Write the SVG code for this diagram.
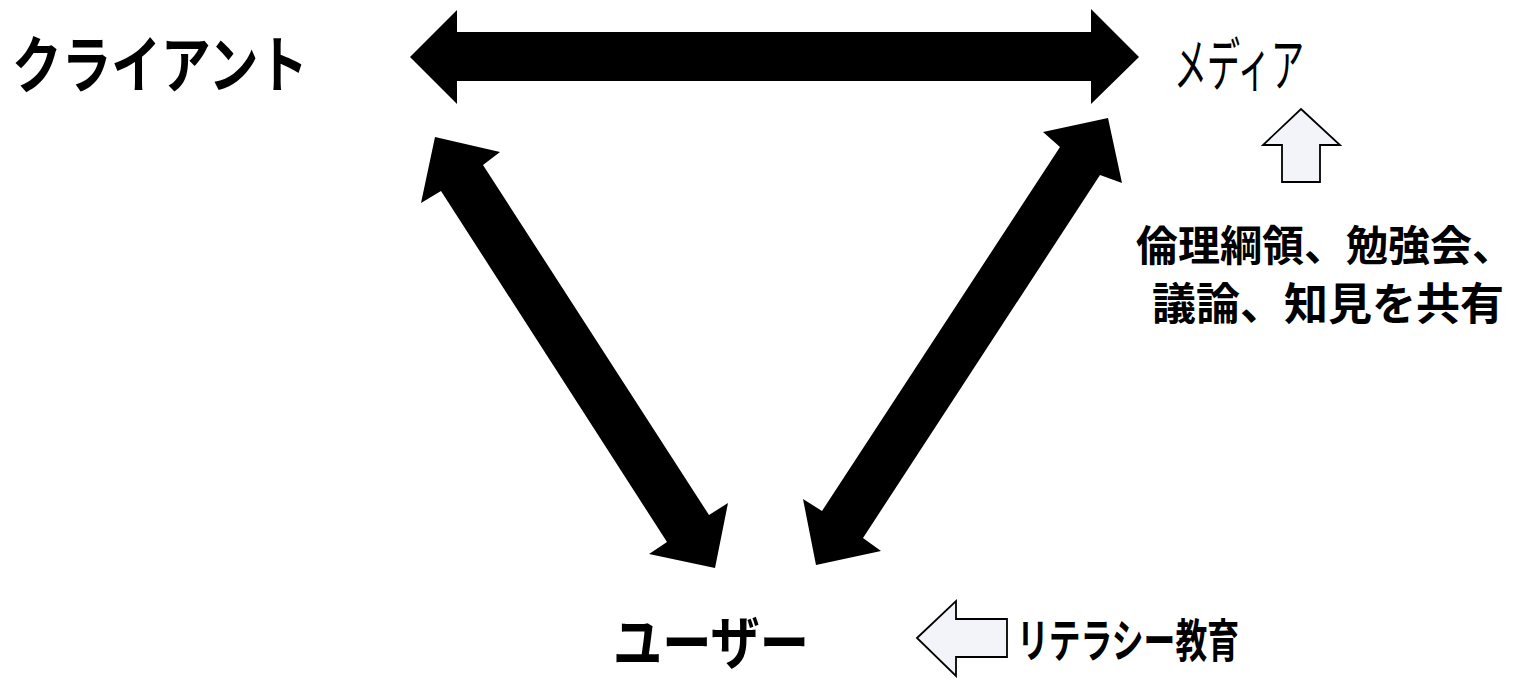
<svg xmlns="http://www.w3.org/2000/svg" width="1524" height="678" viewBox="0 0 1524 678">
<style>
.lbl{font-family:"Noto Sans CJK JP","Liberation Sans",sans-serif;fill:#000}
.b{font-weight:bold}
.big{fill:#000;stroke:none}
.blk{fill:#f3f4fa;stroke:#000;stroke-width:1.8;stroke-linejoin:miter}
</style>
<rect width="1524" height="678" fill="#fff"/>
<g id="client"><text class="lbl b" x="12" y="88" font-size="62" textLength="296" lengthAdjust="spacingAndGlyphs">クライアント</text></g>
<g id="media"><text class="lbl" x="1174" y="86" font-size="58" textLength="130" lengthAdjust="spacingAndGlyphs">メディア</text></g>
<g id="user"><text class="lbl b" x="613" y="664" font-size="58" textLength="196" lengthAdjust="spacingAndGlyphs">ユーザー</text></g>
<g id="media-note"><text class="lbl b" x="1136" y="261" font-size="42">倫理綱領、勉強会、</text><text class="lbl b" x="1152" y="320" font-size="44">議論、知見を共有</text></g>
<g id="user-note"><text class="lbl b" x="1017" y="657" font-size="46" textLength="222" lengthAdjust="spacingAndGlyphs">リテラシー教育</text></g>
<g id="connectors">
<polygon class="big" points="410,57 457,10 457,32 1091,32 1091,9 1139,57 1091,104 1091,81 457,81 457,104"/>
<polygon class="big" points="435,137 500,152 483,165 709,515 728,503 715,568 649,554 667,542 441,191 421,203"/>
<polygon class="big" points="1108,118 1122,183 1100,175 863,538 881,551 816,565 803,499 822,511 1060,147 1043,132"/>
<polygon class="blk" points="1301,109 1340,145 1320,145 1320,182 1282,182 1282,145 1263,145"/>
<polygon class="blk" points="917,638 956,601 956,619 1007,619 1007,657 956,657 956,676"/>
</g>
</svg>
